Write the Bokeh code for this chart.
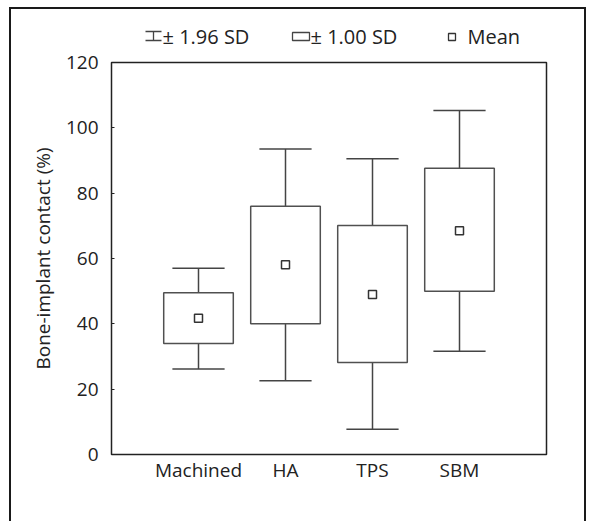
import numpy as np
from bokeh.plotting import figure
from bokeh.models import Range1d, FixedTicker, ColumnDataSource
from bokeh.layouts import column
from bokeh.core.properties import value
from bokeh.embed import file_html
from bokeh.resources import INLINE

# ---- data ----
categories = ["Machined", "HA", "TPS", "SBM"]
means = [41.7, 58.1, 49.0, 68.5]
sd1_upper = [49.5, 76.0, 70.1, 87.6]
sd1_lower = [34.0, 40.0, 28.2, 50.0]
sd196_upper = [57.0, 93.5, 90.5, 105.3]
sd196_lower = [26.2, 22.6, 7.7, 31.6]
y_ticks = [0, 20, 40, 60, 80, 100, 120]
legend_labels = ["\u00b1 1.96 SD", "\u00b1 1.00 SD", "Mean"]

FONT = "Open Sans"
TXT = "#222222"
LINE = "#444444"

xpos = list(range(1, len(categories) + 1))
src = ColumnDataSource(dict(
    x=xpos, cat=categories, mean=means,
    b_hi=sd1_upper, b_lo=sd1_lower, w_hi=sd196_upper, w_lo=sd196_lower,
    mid=[(a + b) / 2 for a, b in zip(sd1_upper, sd1_lower)],
    h=[a - b for a, b in zip(sd1_upper, sd1_lower)],
    cl=[v - 0.3 for v in xpos], cr=[v + 0.3 for v in xpos],
))

W = 573
FW = 435
LH = 41

# ---- legend strip (its frame is aligned with the main plot frame) ----
lg = figure(width=W, height=LH, x_range=Range1d(0, FW), y_range=Range1d(LH, 0),
            output_backend="svg", toolbar_location=None, min_border=0)
lg.axis.visible = False
lg.grid.visible = False
lg.outline_line_color = None
# icon 1: I-beam
lg.segment(x0=[34, 34, 42], y0=[22, 31, 22], x1=[50, 50, 42], y1=[22, 31, 31],
           line_color=LINE, line_width=1.3)
# icon 2: box
lg.quad(left=[181], right=[198], top=[23], bottom=[31], fill_color="white",
        line_color=LINE, line_width=1.3)
# icon 3: mean square
lg.scatter(x=[340.5], y=[27.5], marker="square", size=7, fill_color="white",
           line_color="#333333", line_width=1.3)
lg.text(x=[51, 199, 356], y=[26.5, 26.5, 26.5], text=legend_labels,
        text_font=value(FONT), text_font_size="20px", text_color=TXT,
        text_baseline="middle", text_align="left")

# ---- main plot ----
p = figure(width=W, height=471, x_range=Range1d(0, len(categories) + 1),
           y_range=Range1d(0, 120), output_backend="svg", toolbar_location=None,
           min_border_left=100, min_border_right=38, min_border_top=12,
           min_border_bottom=67, frame_width=FW, frame_height=392)
p.grid.visible = False
p.outline_line_color = "#222222"
p.outline_line_width = 1.5

# whisker stems
p.segment(x0="x", y0="b_hi", x1="x", y1="w_hi", source=src, line_color=LINE, line_width=1.5)
p.segment(x0="x", y0="w_lo", x1="x", y1="b_lo", source=src, line_color=LINE, line_width=1.5)
# caps
p.segment(x0="cl", y0="w_hi", x1="cr", y1="w_hi", source=src, line_color=LINE, line_width=1.5)
p.segment(x0="cl", y0="w_lo", x1="cr", y1="w_lo", source=src, line_color=LINE, line_width=1.5)
# boxes
p.rect(x="x", y="mid", width=0.8, height="h", source=src, fill_color="white",
       line_color="#505050", line_width=1.5)
# means
p.scatter(x="x", y="mean", source=src, marker="square", size=8, fill_color="white",
          line_color="#333333", line_width=1.5)

p.xaxis.ticker = FixedTicker(ticks=xpos)
p.xaxis.major_label_overrides = {v: c for v, c in zip(xpos, categories)}
p.xaxis.major_tick_line_color = None
p.xaxis.major_tick_in = 0
p.xaxis.major_tick_out = 0
p.xaxis.minor_tick_line_color = None
p.xaxis.axis_line_color = None
p.xaxis.major_label_standoff = 2

p.yaxis.ticker = FixedTicker(ticks=y_ticks)
p.yaxis.minor_tick_line_color = None
p.yaxis.major_tick_in = 3
p.yaxis.major_tick_out = 0
p.yaxis.major_tick_line_color = "#222222"
p.yaxis.axis_line_color = None
p.yaxis.major_label_standoff = 13
p.yaxis.axis_label = "Bone-implant contact (%)"
p.yaxis.axis_label_standoff = 7
p.yaxis.axis_label_text_font_style = "normal"

for ax in (p.xaxis, p.yaxis):
    ax.major_label_text_font = FONT
    ax.major_label_text_font_size = "19px"
    ax.major_label_text_color = TXT
    ax.axis_label_text_font = FONT
    ax.axis_label_text_font_size = "19px"
    ax.axis_label_text_color = TXT

layout = column(lg, p, spacing=0,
                styles={"margin-left": "9px", "margin-top": "7px",
                        "border-top": "2px solid #1a1a1a",
                        "border-left": "2px solid #1a1a1a",
                        "border-right": "2px solid #1a1a1a"})

open("out.html", "w").write(file_html(layout, INLINE))
